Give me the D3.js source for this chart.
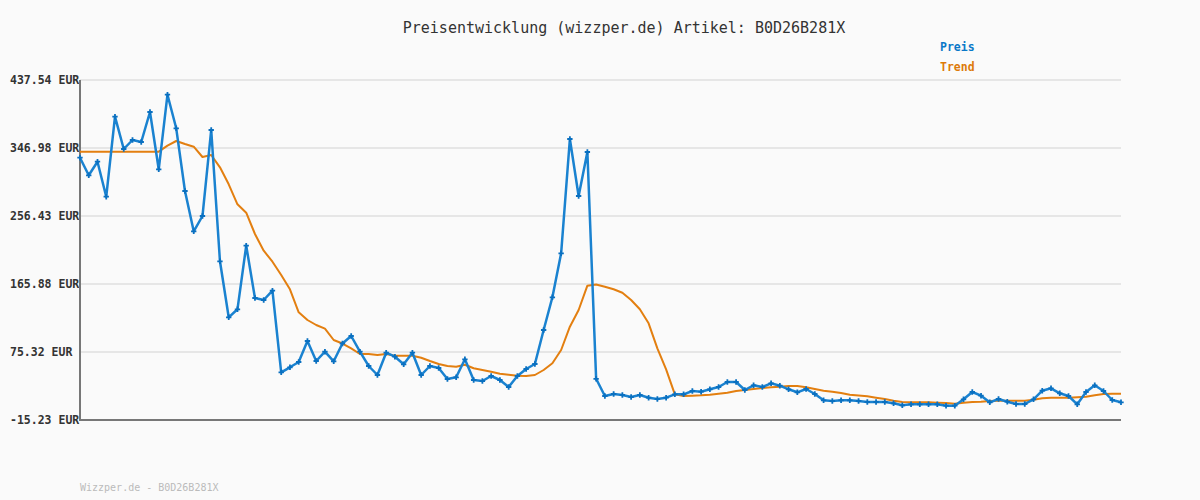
<!DOCTYPE html>
<html>
<head>
<meta charset="utf-8">
<script src="https://cdn.jsdelivr.net/npm/d3@7"></script>
<style>
html,body{margin:0;padding:0;background:#fafafa;}
svg{display:block;}
text{font-family:"DejaVu Sans Mono","Liberation Mono",monospace;}
</style>
</head>
<body>
<svg id="chart" width="1200" height="500"></svg>
<script>
const title = "Preisentwicklung (wizzper.de) Artikel: B0D26B281X";
const footer = "Wizzper.de - B0D26B281X";
const seriesNames = ["Preis", "Trend"];
const tickValues = [-15.23, 75.32, 165.88, 256.43, 346.98, 437.54];
const tickLabels = ["-15.23 EUR", "75.32 EUR", "165.88 EUR", "256.43 EUR", "346.98 EUR", "437.54 EUR"];

const preis = [
  334.07, 310.63, 328.74, 282.13, 388.67, 345.65, 357.64, 354.98, 394.93, 318.62,
  417.96, 373.22, 289.72, 236.06, 256.43, 370.96, 196.11, 121.53, 132.19, 216.88,
  147.23, 144.57, 156.96, 48.29, 54.95, 62.01, 89.97, 63.34, 75.72, 62.94,
  86.64, 96.63, 75.72, 56.68, 44.70, 74.39, 69.06, 58.94, 74.39, 44.70,
  56.68, 54.02, 39.37, 41.63, 65.60, 38.04, 36.71, 43.36, 38.04, 28.72,
  43.36, 52.69, 59.34, 104.62, 148.17, 206.76, 358.97, 283.07, 341.66, 39.63,
  16.73, 19.39, 18.06, 15.40, 18.06, 14.46, 12.74, 14.46, 18.99, 18.99,
  23.39, 22.46, 25.65, 28.72, 35.37, 35.37, 24.72, 30.98, 28.72, 33.64,
  30.45, 25.65, 21.66, 26.05, 19.39, 11.00, 10.07, 11.00, 11.00, 10.07,
  8.74, 8.74, 8.74, 7.01, 4.35, 5.68, 5.68, 5.68, 5.68, 3.81,
  3.81, 12.34, 22.06, 17.13, 8.34, 12.74, 9.14, 6.08, 6.08, 12.34,
  23.79, 26.98, 20.33, 16.73, 5.68, 22.06, 30.98, 23.39, 11.40, 8.34
];

const trend = [
  342.06, 342.06, 342.06, 342.06, 342.06, 342.06, 342.06, 342.06, 342.06, 342.06,
  350.05, 356.31, 352.31, 348.72, 335.00, 337.66, 321.28, 298.65, 272.01, 260.83,
  232.46, 210.22, 195.57, 177.86, 158.82, 128.19, 117.94, 111.28, 106.35, 91.30,
  86.64, 80.25, 72.66, 72.66, 71.33, 72.66, 70.40, 70.40, 70.40, 67.73,
  63.34, 59.34, 56.68, 55.75, 58.41, 53.62, 51.35, 49.09, 46.43, 45.09,
  43.76, 43.36, 44.70, 51.35, 60.28, 77.99, 109.02, 131.25, 163.61, 165.21,
  162.28, 158.82, 154.29, 144.57, 132.19, 113.54, 80.25, 52.29, 18.99, 16.73,
  17.13, 17.66, 18.46, 19.79, 21.12, 23.39, 24.72, 26.05, 27.38, 28.32,
  29.12, 30.05, 30.05, 28.32, 26.05, 23.79, 22.46, 20.73, 18.46, 17.40,
  16.33, 14.46, 12.74, 10.47, 8.74, 8.34, 8.34, 8.34, 7.81, 7.41,
  6.47, 7.81, 8.74, 9.14, 10.07, 10.47, 10.47, 10.47, 10.47, 11.80,
  13.67, 14.46, 14.46, 14.46, 15.00, 15.79, 17.66, 19.39, 19.79, 19.79
];

(function () {
const svg = d3.select("#chart");
const pLeft = 80, pRight = 1121, pTop = 80, pBottom = 420;

const x = d3.scaleLinear().domain([0, preis.length - 1]).range([pLeft, pRight]);
const y = d3.scaleLinear().domain([tickValues[0], tickValues[tickValues.length - 1]]).range([pBottom, pTop]);

svg.append("rect").attr("width", 1200).attr("height", 500).attr("fill", "#fafafa");

// gridlines
svg.append("g").selectAll("line").data(tickValues).join("line")
  .attr("x1", pLeft).attr("x2", pRight)
  .attr("y1", d => y(d)).attr("y2", d => y(d))
  .attr("stroke", "#e6e6e6").attr("stroke-width", 2);

// tick labels
svg.append("g").selectAll("text").data(tickValues).join("text")
  .attr("x", 10).attr("y", d => y(d) + 4)
  .attr("font-size", "11.5px").attr("font-weight", "bold").attr("fill", "#333")
  .text((d, i) => tickLabels[i]);

// axes lines
svg.append("line").attr("x1", pLeft).attr("x2", pLeft).attr("y1", pTop).attr("y2", pBottom + 1)
  .attr("stroke", "#777").attr("stroke-width", 2);
svg.append("line").attr("x1", pLeft - 1).attr("x2", pRight).attr("y1", pBottom).attr("y2", pBottom)
  .attr("stroke", "#777").attr("stroke-width", 2);

const line = d3.line().x((d, i) => x(i)).y(d => y(d));

// trend
svg.append("path").datum(trend).attr("d", line)
  .attr("fill", "none").attr("stroke", "#e37f10").attr("stroke-width", 2)
  .attr("stroke-linejoin", "round");

// price
svg.append("path").datum(preis).attr("d", line)
  .attr("fill", "none").attr("stroke", "#1a82d0").attr("stroke-width", 2.5)
  .attr("stroke-linejoin", "round");

const sym = d3.symbol().type(d3.symbolCross).size(16);
svg.append("g").selectAll("path").data(preis).join("path")
  .attr("transform", (d, i) => `translate(${x(i)},${y(d)})`)
  .attr("d", sym).attr("fill", "#0a70c0");

// title
svg.append("text").attr("x", 624).attr("y", 33).attr("text-anchor", "middle")
  .attr("font-size", "15px").attr("fill", "#333").text(title);

// legend
const legendColors = ["#0a78c8", "#dd7a0a"];
svg.append("g").selectAll("text").data(seriesNames).join("text")
  .attr("x", 940).attr("y", (d, i) => 51 + i * 20)
  .attr("font-size", "11.5px").attr("font-weight", "bold")
  .attr("fill", (d, i) => legendColors[i]).text(d => d);

// footer
svg.append("text").attr("x", 80).attr("y", 491)
  .attr("font-size", "10px").attr("fill", "#bbb").text(footer);
})();
</script>
</body>
</html>
